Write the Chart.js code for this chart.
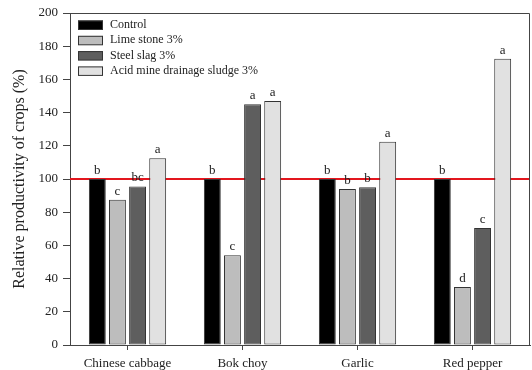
<!DOCTYPE html>
<html>
<head>
<meta charset="utf-8">
<script src="https://cdn.jsdelivr.net/npm/chart.js@4.4.0/dist/chart.umd.min.js"></script>
<style>
  html, body { margin: 0; padding: 0; background: #fff; }
  #wrap { width: 532px; height: 370px; }
</style>
</head>
<body>
<div id="wrap"><canvas id="c" width="532" height="370"></canvas></div>
<script>
// Crops and treatments
const crops = ["Chinese cabbage", "Bok choy", "Garlic", "Red pepper"];
const treatments = ["Control", "Lime stone 3%", "Steel slag 3%", "Acid mine drainage sludge 3%"];

// Relative productivity (%) per treatment
const control   = [100, 100, 100, 100];
const limeStone = [87.5, 54, 94, 35];
const steelSlag = [95.5, 145, 95, 70.5];
const amdSludge = [112.5, 147, 122.5, 172.5];

// Significance letters shown above each bar
const lettersControl = ["b", "b", "b", "b"];
const lettersLime    = ["c", "c", "b", "d"];
const lettersSteel   = ["bc", "a", "b", "c"];
const lettersSludge  = ["a", "a", "a", "a"];

const yTicks = [0, 20, 40, 60, 80, 100, 120, 140, 160, 180, 200];
const referenceLevel = 100;

const fills = ["#000000", "#bdbdbd", "#5e5e5e", "#e1e1e1"];
const serif = "'Liberation Serif', 'Times New Roman', serif";

const seriesValues = [control, limeStone, steelSlag, amdSludge];
const seriesLetters = [lettersControl, lettersLime, lettersSteel, lettersSludge];

const datasets = treatments.map((t, i) => ({
  label: t,
  data: seriesValues[i],
  letters: seriesLetters[i],
  backgroundColor: fills[i],
  borderColor: "#333333",
  borderWidth: 1,
  borderSkipped: false,
  categoryPercentage: 0.7,
  barPercentage: 0.84
}));

// Reference line behind the bars
const referenceLine = {
  id: "referenceLine",
  beforeDatasetsDraw(chart) {
    const { ctx, chartArea: a, scales } = chart;
    const y100 = scales.y.getPixelForValue(referenceLevel);
    ctx.save();
    ctx.strokeStyle = "#e3161e";
    ctx.lineWidth = 2;
    ctx.beginPath();
    ctx.moveTo(a.left, y100);
    ctx.lineTo(a.right, y100);
    ctx.stroke();
    ctx.restore();
  }
};

// Frame, letters and legend
const decorations = {
  id: "decorations",
  afterDatasetsDraw(chart) {
    const { ctx, chartArea: a } = chart;
    ctx.save();

    // letters above bars
    ctx.fillStyle = "#222";
    ctx.font = "13px " + serif;
    ctx.textAlign = "center";
    ctx.textBaseline = "bottom";
    chart.data.datasets.forEach((ds, di) => {
      const meta = chart.getDatasetMeta(di);
      meta.data.forEach((bar, i) => {
        ctx.fillText(ds.letters[i], bar.x, bar.y - 2);
      });
    });

    // frame top and right
    ctx.strokeStyle = "#444";
    ctx.lineWidth = 1;
    ctx.beginPath();
    ctx.moveTo(a.left, a.top + 0.5);
    ctx.lineTo(a.right - 0.5, a.top + 0.5);
    ctx.lineTo(a.right - 0.5, a.bottom);
    ctx.stroke();

    // legend
    ctx.font = "12px " + serif;
    ctx.textAlign = "left";
    ctx.textBaseline = "middle";
    chart.data.datasets.forEach((ds, di) => {
      const cy = 25 + di * 15.3;
      ctx.fillStyle = ds.backgroundColor;
      ctx.fillRect(78, cy - 4.5, 25, 9);
      ctx.strokeStyle = "#333";
      ctx.strokeRect(78.5, cy - 4, 24, 8.5);
      ctx.fillStyle = "#222";
      ctx.fillText(ds.label, 110, cy);
    });
    ctx.restore();
  }
};

new Chart(document.getElementById("c"), {
  type: "bar",
  data: { labels: crops, datasets },
  options: {
    responsive: false,
    animation: false,
    layout: { padding: { left: 0, right: 2, top: 13, bottom: 0 } },
    plugins: { legend: { display: false }, tooltip: { enabled: false } },
    scales: {
      x: {
        grid: { offset: false, drawOnChartArea: false, tickLength: 5, color: "#444" },
        border: { color: "#444", width: 1 },
        ticks: { color: "#222", font: { family: serif, size: 13 }, padding: 6, maxRotation: 0 },
        afterFit(scale) { scale.height = 25; }
      },
      y: {
        min: 0,
        max: 200,
        afterBuildTicks(scale) { scale.ticks = yTicks.map(v => ({ value: v })); },
        grid: { drawOnChartArea: false, tickLength: 7, color: "#444" },
        border: { color: "#444", width: 1 },
        ticks: { color: "#222", font: { family: serif, size: 13 }, padding: 5 },
        title: {
          display: true,
          text: "Relative productivity of crops (%)",
          color: "#222",
          font: { family: serif, size: 16 },
          padding: { top: 10, bottom: 0 }
        },
        afterFit(scale) { scale.width = 70; }
      }
    }
  },
  plugins: [referenceLine, decorations]
});
</script>
</body>
</html>
